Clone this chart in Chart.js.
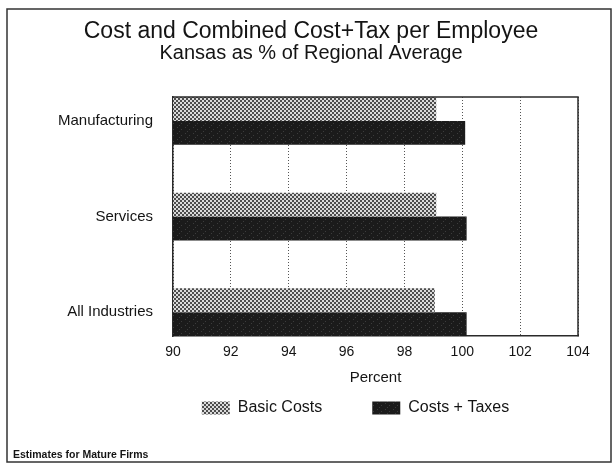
<!DOCTYPE html>
<html>
<head>
<meta charset="utf-8">
<script src="https://cdn.jsdelivr.net/npm/chart.js@4.4.1/dist/chart.umd.min.js"></script>
<style>
  html, body { margin: 0; padding: 0; background: #fff; }
  #wrap { width: 613px; height: 468px; }
</style>
</head>
<body>
<div id="wrap"><canvas id="costChart" width="613" height="468"></canvas></div>
<script>
// Data
const categories = ['Manufacturing', 'Services', 'All Industries'];
const basicCosts = [99.1, 99.1, 99.05];
const costsTaxes = [100.1, 100.15, 100.15];
const xTicks = [90, 92, 94, 96, 98, 100, 102, 104];
const seriesNames = ['Basic Costs', 'Costs + Taxes'];

const FONT = '"Liberation Sans", Arial, Helvetica, sans-serif';
const INK = '#141414';

// Texture fills that stand in for the printed screens
function checkerPattern() {
    const c = document.createElement('canvas');
    c.width = 4; c.height = 4;
    const g = c.getContext('2d');
    g.fillStyle = '#dadada';
    g.fillRect(0, 0, 4, 4);
    g.fillStyle = '#4c4c4c';
    g.fillRect(0, 0, 2, 2);
    g.fillRect(2, 2, 2, 2);
    return g.createPattern(c, 'repeat');
}

function darkPattern() {
    const c = document.createElement('canvas');
    c.width = 8; c.height = 6;
    const g = c.getContext('2d');
    g.fillStyle = '#1b1b1b';
    g.fillRect(0, 0, 8, 6);
    g.fillStyle = '#3c3c3c';
    g.fillRect(1, 1, 1, 1);
    g.fillRect(5, 3, 1, 1);
    g.fillRect(3, 5, 1, 1);
    return g.createPattern(c, 'repeat');
}

// Plot frame (top/right edges) plus outer page border and footnote
const framePlugin = {
    id: 'frame',
    afterDraw(chart) {
        const { ctx, chartArea: a } = chart;
        ctx.save();
        ctx.strokeStyle = '#2a2a2a';
        ctx.lineWidth = 1.5;
        ctx.beginPath();
        ctx.moveTo(a.left, a.top);
        ctx.lineTo(a.right, a.top);
        ctx.lineTo(a.right, a.bottom);
        ctx.stroke();

        ctx.lineWidth = 1.5;
        ctx.strokeStyle = '#333';
        ctx.strokeRect(7, 9, 604, 453);

        ctx.fillStyle = INK;
        ctx.font = 'bold 10.5px ' + FONT;
        ctx.textBaseline = 'middle';
        ctx.fillText('Estimates for Mature Firms', 13, 455);
        ctx.restore();
    }
};

const legendPad = ['\u00A0'.repeat(9), '\u00A0'.repeat(9)];

const ctx = document.getElementById('costChart').getContext('2d');
new Chart(ctx, {
    type: 'bar',
    data: {
        datasets: [
            {
                label: seriesNames[0],
                data: basicCosts.map((v, i) => ({ x: v, y: i })),
                backgroundColor: checkerPattern(),
                borderWidth: 0
            },
            {
                label: seriesNames[1],
                data: costsTaxes.map((v, i) => ({ x: v, y: i })),
                backgroundColor: darkPattern(),
                borderWidth: 0
            }
        ]
    },
    options: {
        indexAxis: 'y',
        responsive: false,
        animation: false,
        devicePixelRatio: 1,
        barPercentage: 1,
        categoryPercentage: 0.5,
        layout: { padding: { top: 16, left: 44, right: 35, bottom: 42 } },
        plugins: {
            title: {
                display: true,
                text: 'Cost and Combined Cost+Tax per Employee',
                color: INK,
                font: { family: FONT, size: 23, weight: 'normal', lineHeight: 1 },
                padding: { top: 4, bottom: 0 }
            },
            subtitle: {
                display: true,
                text: 'Kansas as % of Regional Average',
                color: INK,
                font: { family: FONT, size: 20, weight: 'normal', lineHeight: 1 },
                padding: { top: 0, bottom: 34 }
            },
            legend: {
                position: 'bottom',
                fullSize: false,
                labels: {
                    boxWidth: 28,
                    boxHeight: 13,
                    padding: 10,
                    color: INK,
                    font: { family: FONT, size: 16 },
                    generateLabels: chart => Chart.defaults.plugins.legend.labels
                        .generateLabels(chart)
                        .map((item, i) => ({ ...item, text: item.text + legendPad[i], lineWidth: 0 }))
                }
            },
            tooltip: { enabled: false }
        },
        scales: {
            x: {
                type: 'linear',
                min: xTicks[0],
                max: xTicks[xTicks.length - 1],
                afterBuildTicks: scale => { scale.ticks = xTicks.map(v => ({ value: v })); },
                grid: { color: '#555', lineWidth: 1, drawTicks: false },
                border: { display: true, color: '#2a2a2a', width: 1.5, dash: [1, 2] },
                ticks: {
                    color: INK,
                    padding: 8,
                    maxRotation: 0,
                    font: { family: FONT, size: 14 }
                },
                title: {
                    display: true,
                    text: 'Percent',
                    color: INK,
                    font: { family: FONT, size: 15 },
                    padding: { top: 0, bottom: 3 }
                }
            },
            y: {
                type: 'linear',
                reverse: true,
                offset: false,
                bounds: 'data',
                min: -0.25,
                max: categories.length - 0.75,
                afterBuildTicks: scale => { scale.ticks = categories.map((c, i) => ({ value: i })); },
                afterFit: scale => { scale.width = 129; },
                grid: { display: false, drawTicks: false, offset: false },
                border: { display: true, color: '#2a2a2a', width: 1.5 },
                ticks: {
                    padding: 20,
                    color: INK,
                    font: { family: FONT, size: 15 },
                    callback: v => categories[Math.round(v)]
                }
            }
        }
    },
    plugins: [framePlugin]
});
</script>
</body>
</html>
